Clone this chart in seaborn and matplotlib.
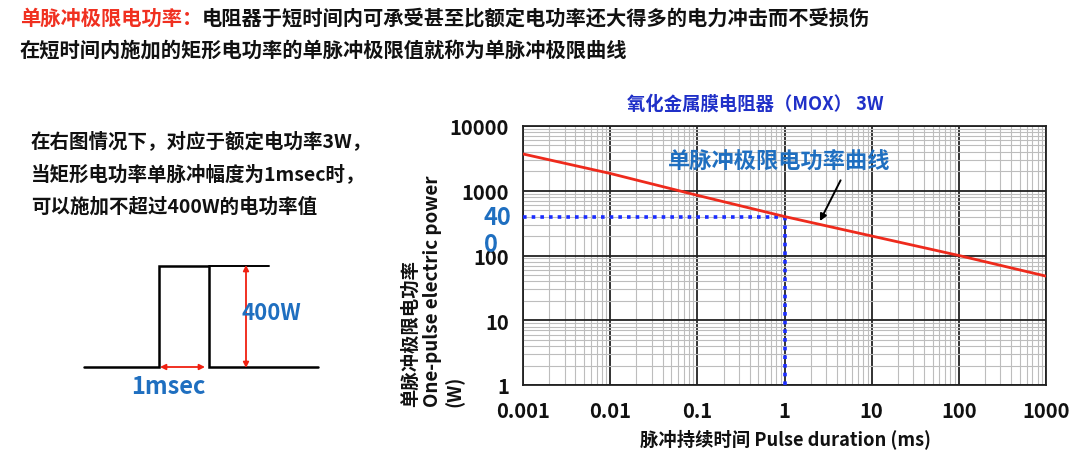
import numpy as np
import pandas as pd
import matplotlib
matplotlib.use("Agg")
import matplotlib.pyplot as plt
import seaborn as sns
from matplotlib.ticker import LogLocator, FixedLocator, FixedFormatter, NullFormatter

# data
pulse_ms = [0.001, 0.01, 0.1, 1, 10, 100, 1000]
power_w = [3700, 1850, 850, 400, 200, 100, 48]
x_ticks = [0.001, 0.01, 0.1, 1, 10, 100, 1000]
x_labels = ["0.001", "0.01", "0.1", "1", "10", "100", "1000"]
y_ticks = [1, 10, 100, 1000, 10000]
y_labels = ["1", "10", "100", "1000", "10000"]
mark_pulse = 1
mark_power = 400

df = pd.DataFrame({"pulse": pulse_ms, "power": power_w})

sns.set_theme(style="white")
plt.rcParams["font.family"] = ["Noto Sans CJK SC", "DejaVu Sans"]
plt.rcParams["font.weight"] = "bold"

W, H = 1080, 452
fig = plt.figure(figsize=(10.8, 4.52), dpi=100)
fig.patch.set_facecolor("white")

def fx(px):
    return px / W

def fy(py):
    return 1 - py / H

# background layer in pixel coords for the slide text and pulse sketch
bg = fig.add_axes([0, 0, 1, 1])
bg.set_xlim(0, W)
bg.set_ylim(H, 0)
bg.axis("off")

red_txt = bg.text(20, 18, "单脉冲极限电功率：", color="#f03020", fontsize=14.6,
                  fontweight="bold", va="center", ha="left")
bg.annotate("电阻器于短时间内可承受甚至比额定电功率还大得多的电力冲击而不受损伤",
            xy=(1, 0.5), xycoords=red_txt, va="center", ha="left",
            fontsize=14.6, fontweight="bold", color="#111111")
bg.text(20, 50, "在短时间内施加的矩形电功率的单脉冲极限值就称为单脉冲极限曲线",
        color="#111111", fontsize=14.6, fontweight="bold", va="center", ha="left")

left_lines = ["在右图情况下，对应于额定电功率3W，",
              "当矩形电功率单脉冲幅度为1msec时，",
              "可以施加不超过400W的电功率值"]
for i, s in enumerate(left_lines):
    bg.text(31, 141 + i * 33, s, fontsize=14, fontweight="bold",
            color="#111111", va="center", ha="left")

# pulse sketch
bg.plot([84, 159, 159, 209, 209, 318], [368, 368, 267, 267, 368, 368],
        color="black", lw=1.8, solid_joinstyle="miter")
bg.plot([209, 269], [267, 267], color="black", lw=1.4)
bg.annotate("", xy=(246, 266), xytext=(246, 369),
            arrowprops=dict(arrowstyle="<|-|>", color="#f02010", lw=1.3,
                            mutation_scale=8, shrinkA=0, shrinkB=0))
bg.annotate("", xy=(160, 368), xytext=(205, 368),
            arrowprops=dict(arrowstyle="<|-|>", color="#f02010", lw=1.3,
                            mutation_scale=8, shrinkA=0, shrinkB=0))
bg.text(242, 314, "400W", color="#1f6fc0", fontsize=16, fontweight="bold",
        va="center", ha="left")
bg.text(168, 387, "1msec", color="#1f6fc0", fontsize=17, fontweight="bold",
        va="center", ha="center")

# main chart
ax = fig.add_axes([fx(523), fy(386), fx(1046) - fx(523), fy(127) - fy(386)])
ax.set_xscale("log")
ax.set_yscale("log")
ax.set_xlim(x_ticks[0], x_ticks[-1])
ax.set_ylim(y_ticks[0], y_ticks[-1])

ax.xaxis.set_major_locator(FixedLocator(x_ticks))
ax.xaxis.set_major_formatter(FixedFormatter(x_labels))
ax.yaxis.set_major_locator(FixedLocator(y_ticks))
ax.yaxis.set_major_formatter(FixedFormatter(y_labels))
ax.xaxis.set_minor_locator(LogLocator(base=10, subs=np.arange(2, 10), numticks=20))
ax.yaxis.set_minor_locator(LogLocator(base=10, subs=np.arange(2, 10), numticks=20))
ax.xaxis.set_minor_formatter(NullFormatter())
ax.yaxis.set_minor_formatter(NullFormatter())

ax.grid(which="minor", color="#bdbdbd", lw=0.8)
ax.grid(which="major", color="#222222", lw=1.3)
ax.set_axisbelow(True)
for sp in ax.spines.values():
    sp.set_color("#222222")
    sp.set_linewidth(1.3)
ax.tick_params(which="both", length=0, labelsize=14.5, labelcolor="#111111")
ax.tick_params(axis="x", pad=11)
ax.tick_params(axis="y", pad=10)
for lab in ax.get_xticklabels() + ax.get_yticklabels():
    lab.set_fontweight("bold")

sns.lineplot(data=df, x="pulse", y="power", ax=ax, color="#ee2a1c", lw=2,
             legend=False, zorder=4)

ax.plot([x_ticks[0], mark_pulse], [mark_power, mark_power], color="#1a2cff",
        lw=2.6, ls=(0, (1, 1.4)), zorder=3)
ax.plot([mark_pulse, mark_pulse], [y_ticks[0], mark_power], color="#1a2cff",
        lw=2.6, ls=(0, (1, 1.4)), zorder=3)

ax.text(-0.075, mark_power, "40", transform=ax.get_yaxis_transform(),
        color="#1f6fc0", fontsize=17, fontweight="bold", ha="left", va="center",
        zorder=6, clip_on=False)
ax.text(-0.075, mark_power * 0.38, "0", transform=ax.get_yaxis_transform(),
        color="#1f6fc0", fontsize=17, fontweight="bold", ha="left", va="center",
        zorder=6, clip_on=False)

ax.text(0.87, 3000, "单脉冲极限电功率曲线", color="#1f6fc0", fontsize=16,
        fontweight="bold", ha="center", va="center", zorder=6)
ax.annotate("", xy=(2.55, 340), xytext=(4.4, 1450),
            arrowprops=dict(arrowstyle="-|>", color="black", lw=1.4,
                            mutation_scale=10, shrinkA=0, shrinkB=0))

ax.set_xlabel("")
ax.set_ylabel("")

bg.text(755, 104, "氧化金属膜电阻器（MOX） 3W", color="#2030c8", fontsize=13.2,
        fontweight="bold", ha="center", va="center")
bg.text(785, 439, "脉冲持续时间 Pulse duration (ms)", color="#111111",
        fontsize=13.2, fontweight="bold", ha="center", va="center")
bg.text(410, 407, "单脉冲极限电功率", color="#111111", fontsize=13.2,
        fontweight="bold", rotation=90, ha="center", va="bottom")
bg.text(432, 407, "One-pulse electric power", color="#111111", fontsize=13.5,
        fontweight="bold", rotation=90, ha="center", va="bottom")
bg.text(455, 407, "(W)", color="#111111", fontsize=13.5,
        fontweight="bold", rotation=90, ha="center", va="bottom")

fig.savefig("out.png", dpi=100, facecolor="white")
